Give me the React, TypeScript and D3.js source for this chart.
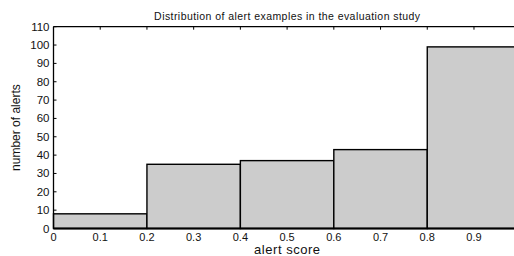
import React from 'react';
import * as d3 from 'd3';

// histogram bins (alert score) and counts
const binStarts = [0, 0.2, 0.4, 0.6, 0.8];
const binWidth = 0.2;
const counts = [8, 35, 37, 43, 99];
const xTicks = [0, 0.1, 0.2, 0.3, 0.4, 0.5, 0.6, 0.7, 0.8, 0.9];
const yTicks = [0, 10, 20, 30, 40, 50, 60, 70, 80, 90, 100, 110];

const W = 514;
const H = 256;
const margin = {left: 53.5, top: 26.7, right: -6.7, bottom: 27.5};
const font = 'Liberation Sans, Arial, sans-serif';

export default function App() {
  const x = d3
    .scaleLinear()
    .domain([0, 1])
    .range([margin.left, W - margin.right]);
  const y = d3
    .scaleLinear()
    .domain([0, 110])
    .range([H - margin.bottom, margin.top]);

  const x0 = x(0);
  const x1 = x(1);
  const y0 = y(0);
  const yTop = y(110);

  return (
    <svg
      width={W}
      height={H}
      style={{position: 'absolute', left: 0, top: 0, background: 'white', overflow: 'hidden'}}
    >
      {/* bars */}
      {binStarts.map((b, i) => (
        <rect
          key={b}
          x={x(b)}
          y={y(counts[i])}
          width={x(b + binWidth) - x(b)}
          height={y0 - y(counts[i])}
          fill="#cccccc"
          stroke="#000"
          strokeWidth={1.4}
        />
      ))}

      {/* axes frame */}
      <line x1={x0} x2={x1} y1={yTop} y2={yTop} stroke="#000" strokeWidth={1.3} />
      <line x1={x0} x2={x0} y1={yTop} y2={y0} stroke="#000" strokeWidth={1.3} />
      <line x1={x0} x2={x1} y1={y0} y2={y0} stroke="#000" strokeWidth={2} />

      {/* y ticks */}
      {yTicks.map((t) => (
        <g key={t}>
          <line x1={x0} x2={x0 + 3} y1={y(t)} y2={y(t)} stroke="#000" strokeWidth={1} />
          <text
            x={x0 - 4}
            y={y(t)}
            dy="0.35em"
            textAnchor="end"
            fontFamily={font}
            fontSize={11.5}
            fill="#111"
          >
            {t}
          </text>
        </g>
      ))}

      {/* x ticks */}
      {xTicks.map((t) => (
        <g key={t}>
          <line x1={x(t)} x2={x(t)} y1={yTop} y2={yTop + 3} stroke="#000" strokeWidth={1} />
          <text
            x={x(t)}
            y={y0 + 12}
            textAnchor="middle"
            fontFamily={font}
            fontSize={11}
            fill="#111"
          >
            {t}
          </text>
        </g>
      ))}

      <text
        x={(x0 + x1) / 2}
        y={19.5}
        textAnchor="middle"
        fontFamily={font}
        fontSize={10.5}
        textLength={266}
        lengthAdjust="spacing"
        fill="#111"
      >
        Distribution of alert examples in the evaluation study
      </text>
      <text
        x={(x0 + x1) / 2}
        y={254}
        textAnchor="middle"
        fontFamily={font}
        fontSize={13}
        textLength={66}
        lengthAdjust="spacing"
        fill="#111"
      >
        alert score
      </text>
      <text
        transform={`translate(20,${(yTop + y0) / 2}) rotate(-90)`}
        textAnchor="middle"
        fontFamily={font}
        fontSize={12}
        fill="#111"
      >
        number of alerts
      </text>
    </svg>
  );
}
